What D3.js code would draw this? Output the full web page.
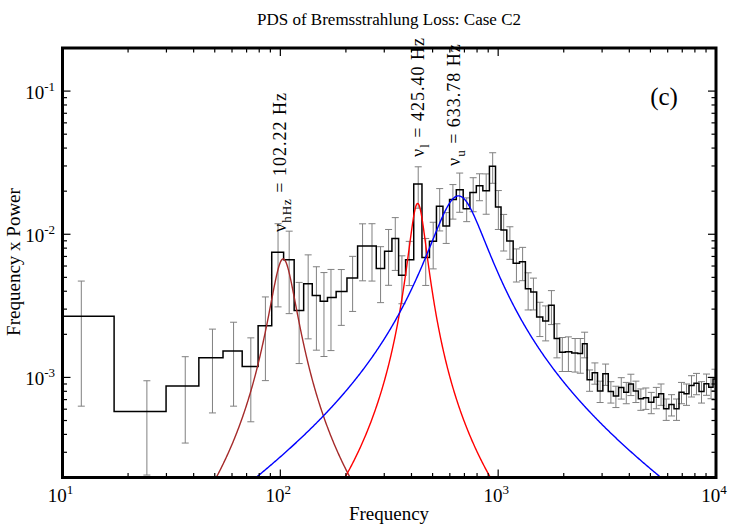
<!DOCTYPE html>
<html><head><meta charset="utf-8">
<script src="https://cdn.jsdelivr.net/npm/d3@7"></script>
<style>
body{margin:0;background:#fff}
text{font-family:"Liberation Serif","Times New Roman",serif;fill:#000}
</style>
</head><body>
<svg id="c" width="750" height="525"></svg>
<script>
// ---- data ----
const freq = [12.2, 24.4, 36.6, 48.8, 61.0, 73.2, 85.4, 97.6, 109.8, 122.0,
  134.2, 146.4, 158.6, 170.8, 190.5, 214.7, 238.5, 263.5, 288.5, 314.0,
  337.0, 361.6, 390.6, 429.5, 465.0, 503.2, 539.0, 577.3, 619.8, 665.9,
  717.0, 767.8, 820.8, 881.0, 943.6, 1002, 1060, 1132, 1213, 1295,
  1373, 1452, 1554, 1652, 1756, 1861, 1970, 2101, 2255, 2383,
  2494, 2628, 2780, 2938, 3113, 3292, 3471, 3674, 3874, 4067,
  4288, 4519, 4764, 5045, 5322, 5594, 5909, 6250, 6588, 6945,
  7322, 7719, 8137, 8579, 9045, 9488, 9895];
const power = [0.00267, 0.000578, 0.000872, 0.00137, 0.00153, 0.00119, 0.00230, 0.00748, 0.00665, 0.00293,
  0.00452, 0.00374, 0.00340, 0.00361, 0.00399, 0.00495, 0.00828, 0.00828, 0.00576, 0.00760,
  0.00933, 0.00517, 0.00665, 0.0224, 0.00687, 0.00893, 0.0157, 0.0114, 0.0175, 0.0205,
  0.0151, 0.0196, 0.0218, 0.0201, 0.0299, 0.0155, 0.0107, 0.00898, 0.00627, 0.00642,
  0.00417, 0.00395, 0.00264, 0.00248, 0.00319, 0.00187, 0.00150, 0.00151, 0.00148, 0.00147,
  0.00172, 0.000964, 0.00108, 0.000805, 0.00106, 0.000798, 0.000742, 0.000851, 0.000789, 0.000900,
  0.000805, 0.000710, 0.000721, 0.000672, 0.000728, 0.000769, 0.000604, 0.000648, 0.000604, 0.000789,
  0.000769, 0.000879, 0.000912, 0.000798, 0.000903, 0.000855, 0.000975];
const sigma = [0.00204, 0.00037, 0.000524, 0.000805, 0.0009, 0.0007, 0.00135, 0.00437, 0.00386, 0.00168,
  0.00266, 0.00219, 0.002, 0.00207, 0.00168, 0.00206, 0.00355, 0.00357, 0.00243, 0.0032,
  0.00374, 0.0019, 0.00227, 0.0072, 0.00248, 0.0032, 0.00515, 0.00277, 0.00474, 0.00626,
  0.00285, 0.00523, 0.00465, 0.0063, 0.0072, 0.0047, 0.00306, 0.0023, 0.00163, 0.00168,
  0.00121, 0.00099, 0.00071, 0.00068, 0.00085, 0.0005, 0.0004, 0.00041, 0.00039, 0.0004,
  0.00035, 0.000164, 0.000183, 0.000137, 0.00018, 0.000136, 0.000126, 0.000145, 0.000134, 0.000153,
  0.000137, 0.000121, 0.000123, 0.000114, 0.000124, 0.000131, 0.000103, 0.00011, 0.000103, 0.000134,
  0.000131, 0.000149, 0.000155, 0.000136, 0.000153, 0.000145, 0.000166];

// Lorentzian components (centroid, HWHM, peak of nu*P)
const compCentre = [102.22, 425.40, 633.78];
const compHWHM   = [13.0, 37.3, 175];
const compPeak   = [0.0067, 0.0164, 0.0182];
const compColor  = ["#a52a2a", "#ff0000", "#0000ff"];
const compSub    = ["hHz", "l", "u"];

const xMajor = [10, 100, 1000, 10000];
const xExp = ["1", "2", "3", "4"];
const yMajor = [0.001, 0.01, 0.1];
const yExp = ["-3", "-2", "-1"];

// ---- layout ----
const svg = d3.select("#c");
const L = 62.5, R = 716, T = 48, B = 477.5;
const x = d3.scaleLog().domain([10, 1e4]).range([L, R]);
const y = d3.scaleLog().domain([2e-4, 0.2]).range([B, T]);

svg.append("defs").append("clipPath").attr("id", "clip")
  .append("rect").attr("x", L).attr("y", T).attr("width", R - L).attr("height", B - T);
const plot = svg.append("g").attr("clip-path", "url(#clip)");

// error bars
const eb = plot.append("g").attr("stroke", "#808080").attr("stroke-width", 1).attr("fill", "none");
freq.forEach((f, i) => {
  const cx = x(f), hi = y(power[i] + sigma[i]), lo = y(Math.max(power[i] - sigma[i], 1e-6));
  eb.append("line").attr("x1", cx).attr("x2", cx).attr("y1", hi).attr("y2", lo);
  eb.append("line").attr("x1", cx - 3.5).attr("x2", cx + 3.5).attr("y1", hi).attr("y2", hi);
  eb.append("line").attr("x1", cx - 3.5).attr("x2", cx + 3.5).attr("y1", lo).attr("y2", lo);
});

// step histogram (edges at geometric midpoints)
const n = freq.length;
const edges = [];
edges.push(freq[0] * freq[0] / freq[1]);
for (let i = 1; i < n; i++) edges.push(Math.sqrt(freq[i - 1] * freq[i]));
edges.push(freq[n - 1] * freq[n - 1] / freq[n - 2]);
let d = `M${x(edges[0])},${y(power[0])}`;
for (let i = 0; i < n; i++) {
  d += `H${x(edges[i + 1])}`;
  if (i < n - 1) d += `V${y(power[i + 1])}`;
}
plot.append("path").attr("d", d).attr("fill", "none").attr("stroke", "#000").attr("stroke-width", 1.5);

// Lorentzian curves
const grid = d3.range(0, 1201).map(k => Math.pow(10, 1 + 3 * k / 1200));
compCentre.forEach((nu0, j) => {
  const w = compHWHM[j], pk = compPeak[j];
  const pts = grid.map(f => [f, pk * (f / nu0) * w * w / (w * w + (f - nu0) * (f - nu0))])
                  .filter(p => p[1] > 1.2e-4);
  plot.append("path")
    .attr("d", d3.line().x(p => x(p[0])).y(p => y(p[1]))(pts))
    .attr("fill", "none").attr("stroke", compColor[j]).attr("stroke-width", 1.4);
});

// ---- axes ----
function minorTicks(lo, hi) {
  const out = [];
  for (let dec = lo; dec < hi; dec *= 10)
    for (let m = 1; m < 10; m++) out.push(dec * m);
  out.push(hi);
  return out;
}
const xAll = minorTicks(10, 1e4);
const yAll = minorTicks(1e-4, 1).filter(v => v >= 2e-4 * 0.999 && v <= 0.2 * 1.001);
const isMajor = v => Math.abs(Math.log10(v) - Math.round(Math.log10(v))) < 1e-6;

const tk = svg.append("g").attr("stroke", "#000").attr("stroke-width", 1.2);
xAll.forEach(v => {
  const len = isMajor(v) ? 8 : 4.5, px = x(v);
  tk.append("line").attr("x1", px).attr("x2", px).attr("y1", B).attr("y2", B - len);
  tk.append("line").attr("x1", px).attr("x2", px).attr("y1", T).attr("y2", T + len);
});
yAll.forEach(v => {
  const len = isMajor(v) ? 8 : 4.5, py = y(v);
  tk.append("line").attr("x1", L).attr("x2", L + len).attr("y1", py).attr("y2", py);
  tk.append("line").attr("x1", R).attr("x2", R - len).attr("y1", py).attr("y2", py);
});

// frame
svg.append("rect").attr("x", L).attr("y", T).attr("width", R - L).attr("height", B - T)
  .attr("fill", "none").attr("stroke", "#000").attr("stroke-width", 3);

// tick labels
xMajor.forEach((v, i) => {
  const t = svg.append("text").attr("x", x(v) - 2).attr("y", 502).attr("text-anchor", "middle")
    .attr("font-size", 19);
  t.append("tspan").text("10");
  t.append("tspan").attr("dy", -8).attr("font-size", 13).text(xExp[i]);
});
yMajor.forEach((v, i) => {
  const t = svg.append("text").attr("x", 55).attr("y", y(v) + 8).attr("text-anchor", "end")
    .attr("font-size", 19);
  t.append("tspan").text("10");
  t.append("tspan").attr("dy", -8).attr("font-size", 13).text(yExp[i]);
});

// titles
svg.append("text").attr("x", 389).attr("y", 25).attr("text-anchor", "middle")
  .attr("font-size", 17).text("PDS of Bremsstrahlung Loss: Case C2");
svg.append("text").attr("x", 389).attr("y", 520).attr("text-anchor", "middle")
  .attr("font-size", 19).text("Frequency");
svg.append("text").attr("transform", "translate(20,262) rotate(-90)").attr("text-anchor", "middle")
  .attr("font-size", 19).text("Frequency x Power");
svg.append("text").attr("x", 664).attr("y", 105).attr("text-anchor", "middle")
  .attr("font-size", 25).text("(c)");

// annotations
const annPos = [[286, 232], [423.5, 157], [460, 166]];
compCentre.forEach((nu0, j) => {
  const t = svg.append("text")
    .attr("transform", `translate(${annPos[j][0]},${annPos[j][1]}) rotate(-90)`)
    .attr("font-size", 18).attr("letter-spacing", 1);
  t.append("tspan").text("\u03bd");
  t.append("tspan").attr("dy", 5).attr("font-size", 13).text(compSub[j]);
  t.append("tspan").attr("dy", -5).text(" = " + nu0.toFixed(2) + " Hz");
});
</script>
</body></html>
